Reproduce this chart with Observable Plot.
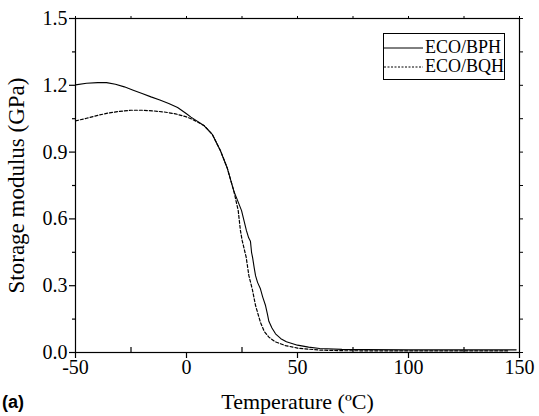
<!DOCTYPE html>
<html>
<head>
<meta charset="utf-8">
<script src="https://cdn.jsdelivr.net/npm/d3@7"></script>
<script src="https://cdn.jsdelivr.net/npm/@observablehq/plot@0.6"></script>
<style>
  html, body { margin: 0; padding: 0; background: #fff; }
  #wrap { position: relative; width: 539px; height: 416px; }
  #wrap svg text { font-family: "Liberation Serif", "Times New Roman", serif !important; font-variant-numeric: normal !important; }
  #legend { position: absolute; left: 383px; top: 33px; width: 120px; height: 45px;
    border: 1px solid #000; background: #fff; font-family: "Liberation Serif", "Times New Roman", serif; font-size: 18px; }
  #legend .row { position: absolute; left: 0; height: 21px; display: flex; align-items: center; }
  #legend svg { display: block; }
  #tag { position: absolute; left: 2px; top: 392px; font-family: "Liberation Sans", Arial, sans-serif; font-weight: bold; font-size: 18px; }
</style>
</head>
<body>
<div id="wrap"></div>
<script>
const seriesNames = ["ECO/BPH", "ECO/BQH"];

const bphT = [-50,-45,-40,-36,-32,-28,-24,-20,-16,-12,-8,-4,0,2,5,8,11.6,15.3,18.3,21.3,24.8,27,28,28.8,29.3,29.8,30.5,31.1,32,33.3,34.3,35.6,36.5,37.1,38.5,40.1,42.5,45,50,55,60,70,80,100,148.5];
const bphV = [1.202,1.209,1.212,1.212,1.205,1.193,1.178,1.163,1.148,1.134,1.118,1.100,1.072,1.057,1.038,1.018,0.98,0.906,0.83,0.726,0.637,0.547,0.515,0.50,0.45,0.425,0.38,0.345,0.315,0.286,0.25,0.211,0.17,0.14,0.11,0.084,0.062,0.048,0.033,0.024,0.018,0.014,0.013,0.012,0.012];

const bqhT = [-50,-45,-40,-35,-30,-25,-20,-15,-10,-5,0,2,5,8,11.6,15.3,18.3,21.3,23.3,24.3,25.1,26.9,28.1,29.6,31.1,33.3,35,37.1,40,44.6,50,55,60,70,100,144.6];
const bqhV = [1.040,1.052,1.065,1.076,1.083,1.088,1.088,1.085,1.080,1.072,1.058,1.050,1.035,1.018,0.98,0.906,0.83,0.726,0.637,0.547,0.502,0.427,0.345,0.286,0.211,0.136,0.095,0.069,0.048,0.031,0.020,0.015,0.011,0.008,0.007,0.007];

const xMajor = [-50, 0, 50, 100, 150];
const xMinor = [-25, 25, 75, 125];
const yMajor = [0.0, 0.3, 0.6, 0.9, 1.2, 1.5];
const yMinor = [0.15, 0.45, 0.75, 1.05, 1.35];

const bph = bphT.map((t, i) => ({T: t, v: bphV[i]}));
const bqh = bqhT.map((t, i) => ({T: t, v: bqhV[i]}));

const font = '"Liberation Serif", "Times New Roman", serif';

const chart = Plot.plot({
  width: 539,
  height: 416,
  marginLeft: 75,
  marginRight: 20,
  marginTop: 18,
  marginBottom: 64,
  style: {fontFamily: font, fontSize: "20px", color: "#000", background: "#fff"},
  x: {domain: [-50, 150], label: null},
  y: {domain: [0, 1.5], label: null},
  marks: [
    Plot.frame({stroke: "#000", strokeWidth: 1.2}),
    Plot.axisX(xMajor, {tickSize: 6, tickPadding: 1, tickFormat: d => d, fontSize: 20, fontFamily: font, strokeWidth: 1.2}),
    Plot.axisX(xMinor, {tickSize: -5, tickFormat: () => "", strokeWidth: 1.2}),
    Plot.axisX(xMajor.concat(xMinor), {anchor: "top", tickSize: 3, tickFormat: () => "", strokeWidth: 1}),
    Plot.axisY(yMajor, {tickSize: 6, tickPadding: 2, tickFormat: d3.format(".1f"), fontSize: 20, fontFamily: font, strokeWidth: 1.2}),
    Plot.axisY(yMinor, {tickSize: 3, tickFormat: () => "", strokeWidth: 1.2}),
    Plot.axisY(yMajor.concat(yMinor), {anchor: "right", tickSize: 3, tickFormat: () => "", strokeWidth: 1}),
    Plot.axisX({anchor: "bottom", ticks: [], label: "Temperature (ºC)", labelAnchor: "center", labelArrow: "none", labelOffset: 56, fontSize: 22, fontFamily: font}),
    Plot.axisY({anchor: "left", ticks: [], label: "Storage modulus (GPa)", labelAnchor: "center", labelArrow: "none", labelOffset: 68, fontSize: 23, fontFamily: font}),
    Plot.line(bqh, {x: "T", y: "v", stroke: "#000", strokeWidth: 1.2, strokeDasharray: "3,2", curve: "linear"}),
    Plot.line(bph, {x: "T", y: "v", stroke: "#000", strokeWidth: 1.1, curve: "linear"})
  ]
});

const wrap = document.getElementById("wrap");
wrap.appendChild(chart);

const legend = document.createElement("div");
legend.id = "legend";
seriesNames.forEach((name, i) => {
  const row = document.createElement("div");
  row.className = "row";
  row.style.top = (3 + i * 19) + "px";
  row.innerHTML = `<svg width="40" height="10"><line x1="0" x2="39" y1="5" y2="5" stroke="#000" stroke-width="1" ${i === 1 ? 'stroke-dasharray="2,1.5"' : ''}></line></svg><span style="margin-left:1px">${name}</span>`;
  legend.appendChild(row);
});
wrap.appendChild(legend);

const tag = document.createElement("div");
tag.id = "tag";
tag.textContent = "(a)";
wrap.appendChild(tag);
</script>
</body>
</html>
